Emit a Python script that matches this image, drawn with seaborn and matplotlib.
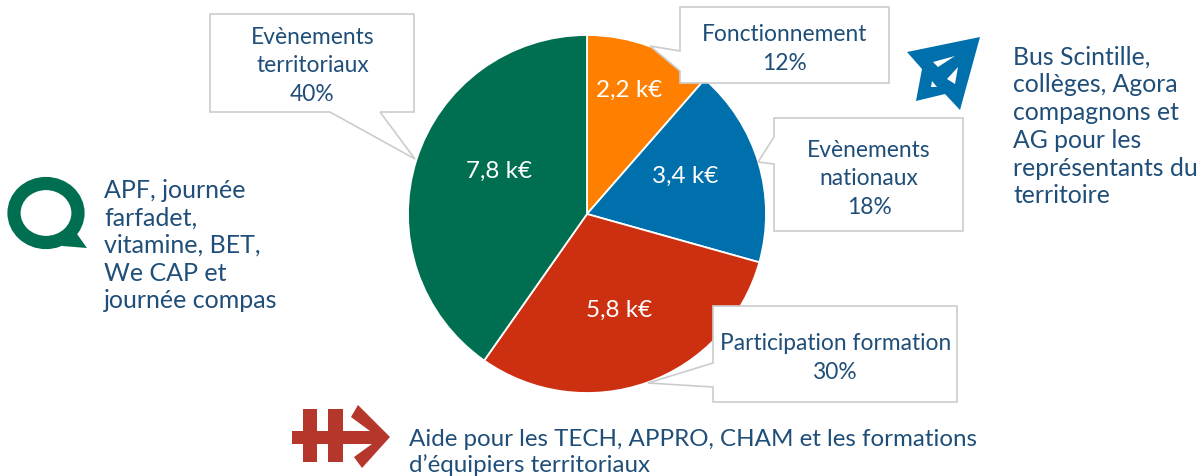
import matplotlib
matplotlib.use("Agg")
import matplotlib.pyplot as plt
from matplotlib.patches import Polygon, Ellipse
import seaborn as sns

sns.set_theme(style="white")
plt.rcParams['font.family'] = ['Lato', 'DejaVu Sans']

W, H = 1202, 477
amounts = [2.2, 3.45, 5.85, 7.75]
amount_labels = ["2,2 k€", "3,4 k€", "5,8 k€", "7,8 k€"]
colors = ["#FF8000", "#0070AD", "#CC3011", "#006F51"]
TXT = "#1F4E79"

fig = plt.figure(figsize=(W/100, H/100), dpi=100, facecolor="white")
cx, cy, r = 587, 215, 179
ax = fig.add_axes([(cx-r)/W, 1-(cy+r)/H, 2*r/W, 2*r/H])
ax.pie(amounts, colors=colors, startangle=90, counterclock=False, radius=1,
       wedgeprops=dict(edgecolor="white", linewidth=1.3))
ax.set_xlim(-1, 1); ax.set_ylim(-1, 1)
ax.set_aspect("equal")
ax.patch.set_visible(False)

ov = fig.add_axes([0, 0, 1, 1], zorder=5)
ov.set_xlim(0, W); ov.set_ylim(H, 0); ov.axis("off")

def callout(pts):
    ov.add_patch(Polygon(pts, closed=True, fc="white", ec="#CCCCCC", lw=1.2, zorder=2))

callout([(210,15),(414,15),(414,113),(380,113),(415,160),(330,113),(210,113)])
callout([(680,8),(889,8),(889,84),(680,84),(680,72),(650,47),(680,52)])
callout([(774,119),(963,119),(963,232),(774,232),(774,165),(758,163),(774,138)])
callout([(713,307),(957,307),(957,403),(713,403),(713,388),(648,384),(713,364)])

def label(x, y, s, size=16.4, ha="center", ls=1.47, color=TXT):
    ov.text(x, y, s, color=color, fontsize=size, ha=ha, va="center", linespacing=ls, zorder=3)

label(312.5, 66, "Evènements\nterritoriaux\n40%")
label(784.5, 49, "Fonctionnement\n12%")
label(869, 179, "Evènements\nnationaux\n18%")
label(835.5, 358, "Participation formation\n30%")

label(104, 245.5, "APF, journée\nfarfadet,\nvitamine, BET,\nWe CAP et\njournée compas", ha="left", ls=1.24, size=18)
label(1013, 126.5, "Bus Scintille,\ncollèges, Agora\ncompagnons et\nAG pour les\nreprésentants du\nterritoire", ha="left", ls=1.25, size=17.8)
label(409, 452.5, "Aide pour les TECH, APPRO, CHAM et les formations\nd’équipiers territoriaux", ha="left", ls=1.24, size=17.4)

# values printed on the wedges
for (x, y), s in zip([(629, 90), (685, 176), (619, 310), (499, 171)], amount_labels):
    label(x, y, s, size=17.5, color="white")

# speech-bubble icon
ov.add_patch(Polygon([(72,228),(87,249),(62,247)], fc=colors[3], ec="none", zorder=3))
ov.add_patch(Ellipse((46, 214), 64, 59, fc="white", ec=colors[3], lw=9.5, zorder=4))

# paper-plane icon
ov.add_patch(Polygon([(980,38),(907,53),(922,70),(916,102),(945,95),(960,111)], fc=colors[1], ec="none", zorder=3))
ov.add_patch(Polygon([(955,57),(933,63),(938,68)], fc="white", ec="none", zorder=4))
ov.add_patch(Polygon([(958,68),(947,80),(955,85)], fc="white", ec="none", zorder=4))
ov.add_patch(Polygon([(932,82),(931,88),(937,88)], fc="white", ec="none", zorder=4))

# crossed-arrow icon
red = "#B5362B"
ov.add_patch(Polygon([(292,432),(303,432),(303,410),(317,410),(317,432),(328,432),(328,410),(343,410),(343,432),(370,432),(351,418),(358,406),(390,438),(362,469),(354,458),(372,445),(343,445),(343,463),(328,463),(328,445),(317,445),(317,463),(303,463),(303,445),(292,445)], fc=red, ec="none", zorder=3))

fig.savefig("out.png", dpi=100, facecolor="white")
